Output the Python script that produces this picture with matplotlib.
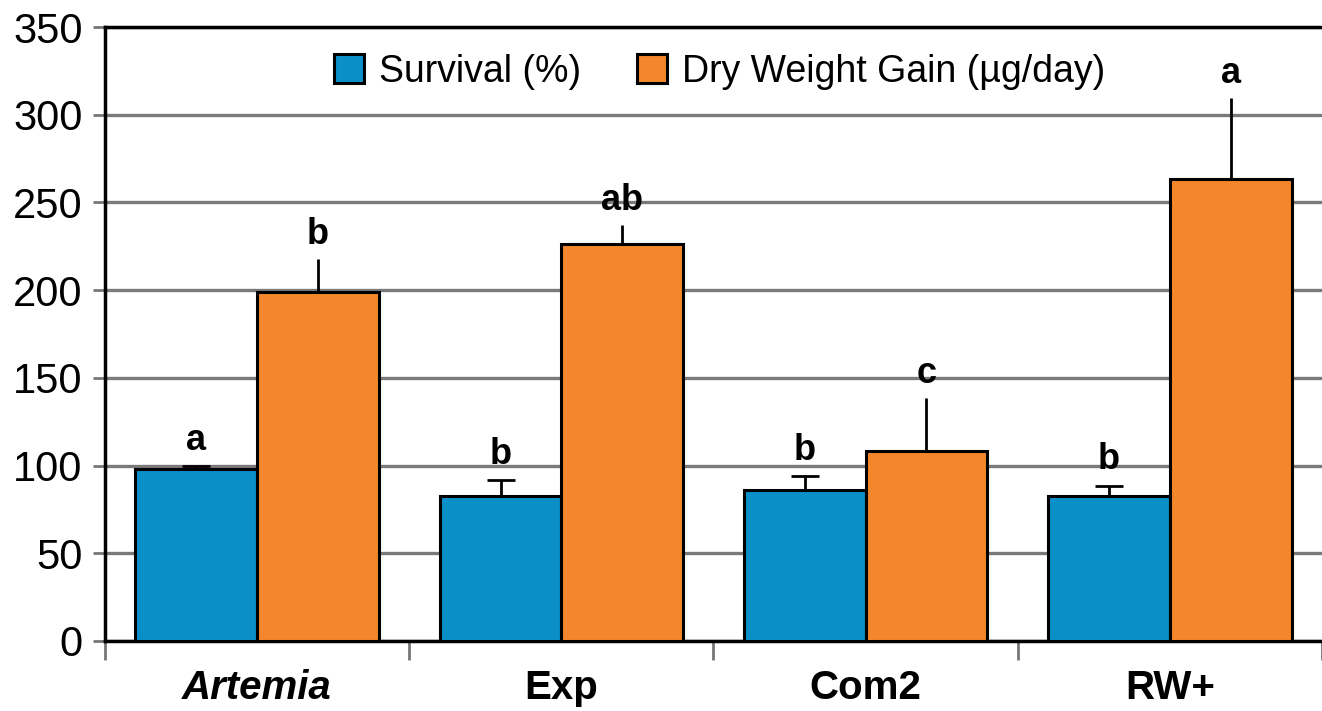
import numpy as np
import matplotlib
matplotlib.use('Agg')
import matplotlib.pyplot as plt

plt.rcParams['font.family'] = ['Liberation Sans', 'DejaVu Sans']

# diets
diets = ['Artemia', 'Exp', 'Com2', 'RW+']

# survival (%) and its upper error
survival = [98.3, 82.5, 85.8, 82.5]
survival_err = [1.2, 9.0, 8.0, 6.0]
survival_letters = ['a', 'b', 'b', 'b']

# dry weight gain (ug/day) and its upper error
dry_gain = [199, 226.5, 108.5, 263.5]
dry_err = [18.5, 10.5, 30.0, 46.0]
dry_letters = ['b', 'ab', 'c', 'a']

blue = '#0b8fc9'
orange = '#f4862c'

fig = plt.figure(figsize=(13.22, 7.11), dpi=100)
ax = fig.add_axes([0.0794, 0.0985, 0.9206, 0.8635])

x = np.arange(len(diets))
w = 0.4

ax.bar(x - w / 2, survival, w, color=blue, edgecolor='black', linewidth=2.2,
       label='Survival (%)', zorder=3)
ax.bar(x + w / 2, dry_gain, w, color=orange, edgecolor='black', linewidth=2.2,
       label='Dry Weight Gain (\u00b5g/day)', zorder=3)

# one-sided error bars
ax.errorbar(x - w / 2, survival, yerr=[np.zeros(4), survival_err], fmt='none',
            ecolor='black', elinewidth=2.0, capsize=10, capthick=2.0, zorder=2)
ax.errorbar(x + w / 2, dry_gain, yerr=[np.zeros(4), dry_err], fmt='none',
            ecolor='black', elinewidth=2.0, capsize=0, zorder=2)

# significance letters
for xi, v, e, s in zip(x - w / 2, survival, survival_err, survival_letters):
    ax.annotate(s, (xi, v + e), xytext=(0, 12), textcoords='offset points',
                ha='center', va='baseline', fontsize=26, fontweight='bold')
for xi, v, e, s in zip(x + w / 2, dry_gain, dry_err, dry_letters):
    ax.annotate(s, (xi, v + e), xytext=(0, 11), textcoords='offset points',
                ha='center', va='baseline', fontsize=26, fontweight='bold')

ax.set_xlim(-0.5, 3.5)
ax.set_ylim(0, 350)
ax.set_yticks(np.arange(0, 351, 50))
ax.tick_params(axis='y', labelsize=30, length=9, width=2, color='#777777', pad=7)
ax.yaxis.grid(True, color='#7a7a7a', linewidth=2.4, zorder=0)
ax.set_axisbelow(True)

# group separators as ticks, names centred under each group
ax.set_xticks(np.arange(-0.5, 3.6, 1.0))
ax.set_xticklabels([])
ax.set_xticks(x, minor=True)
ax.set_xticklabels(diets, minor=True, fontsize=29, fontweight='bold')
ax.tick_params(axis='x', which='major', length=14, width=2, color='#777777')
ax.tick_params(axis='x', which='minor', length=0, pad=20)
ax.get_xticklabels(minor=True)[0].set_style('italic')

for side in ['left', 'bottom', 'top']:
    ax.spines[side].set_linewidth(2.5)
    ax.spines[side].set_color('black')
ax.spines['right'].set_visible(False)

ax.legend(loc='center', bbox_to_anchor=(0.505, 0.927), ncol=2, frameon=False,
          fontsize=27, handlelength=0.8, handleheight=0.8, handletextpad=0.4,
          columnspacing=1.5)

fig.savefig('out.png', dpi=100)
